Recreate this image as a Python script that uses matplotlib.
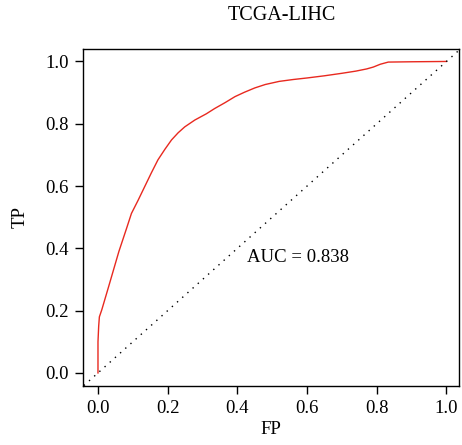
import matplotlib
matplotlib.use("Agg")
import matplotlib.pyplot as plt

# ROC curve points
fp = [0.0, 0.0, 0.002, 0.004, 0.011, 0.030, 0.060, 0.082, 0.096, 0.115, 0.134,
      0.153, 0.172, 0.192, 0.211, 0.230, 0.249, 0.278, 0.311, 0.335, 0.365,
      0.393, 0.420, 0.450, 0.480, 0.520, 0.560, 0.600, 0.650, 0.700, 0.740,
      0.771, 0.790, 0.810, 0.833, 0.900, 1.0]
tp = [0.0, 0.10, 0.15, 0.18, 0.203, 0.275, 0.390, 0.464, 0.512, 0.554, 0.598,
      0.642, 0.684, 0.718, 0.748, 0.771, 0.790, 0.812, 0.832, 0.849, 0.868,
      0.887, 0.901, 0.915, 0.926, 0.936, 0.942, 0.947, 0.954, 0.962, 0.969,
      0.976, 0.982, 0.991, 0.998, 0.999, 1.0]
title = "TCGA-LIHC"
auc_label = "AUC = 0.838"
ticks = [0.0, 0.2, 0.4, 0.6, 0.8, 1.0]

plt.rcParams["font.family"] = ["Liberation Serif", "DejaVu Serif"]

fig = plt.figure(figsize=(4.62, 4.45), dpi=100)
ax = fig.add_axes([83 / 462, 1 - 386 / 445, 376 / 462, 337 / 445])

ax.plot(fp, tp, color="#e8291f", lw=1.0)
ax.plot([-0.1, 1.1], [-0.1, 1.1], color="black", lw=1.0, ls=(0, (1, 4)))

ax.set_xlim(-0.043, 1.036)
ax.set_ylim(-0.042, 1.04)
ax.set_xticks(ticks)
ax.set_yticks(ticks)
ax.set_xticklabels([f"{t:.1f}" for t in ticks])
ax.set_yticklabels([f"{t:.1f}" for t in ticks])
ax.tick_params(direction="out", length=6, width=1, labelsize=13.5, pad=4)
for s in ax.spines.values():
    s.set_linewidth(1.0)

ax.text(0.428, 0.37, auc_label, fontsize=13.5, ha="left", va="center")
ax.set_xlabel("FP", fontsize=13.5, labelpad=3)
ax.set_ylabel("TP", fontsize=13.5, labelpad=12)
fig.text(282 / 462, 1 - 16 / 445, title, fontsize=14.5, ha="center", va="center")

fig.savefig("out.png", dpi=100)
